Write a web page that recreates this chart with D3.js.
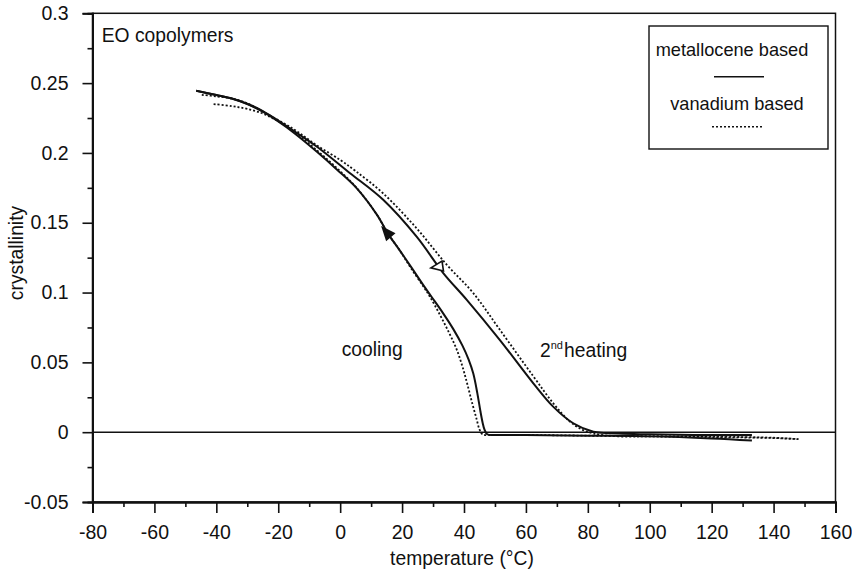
<!DOCTYPE html>
<html><head><meta charset="utf-8">
<script src="https://cdn.jsdelivr.net/npm/d3@7"></script>
<style>
body{margin:0;background:#fff;}
svg{display:block;font-family:"Liberation Sans",Arial,sans-serif;}
</style></head>
<body><svg id="c" width="852" height="571"></svg>
<script>
// ---- data (temperature °C, crystallinity) ----
const xTicks = [-80,-60,-40,-20,0,20,40,60,80,100,120,140,160];
const xMinor = [-70,-50,-30,-10,10,30,50,70,90,110,130,150];
const yTicks = [-0.05,0,0.05,0.1,0.15,0.2,0.25,0.3];
const yTickLabels = ["-0.05","0","0.05","0.1","0.15","0.2","0.25","0.3"];
const yMinor = [-0.025,0.025,0.075,0.125,0.175,0.225,0.275];

const metalloceneCooling = [
 [133,-0.006],[120,-0.0045],[100,-0.003],[80,-0.0025],[60,-0.002],[50,-0.002],[47.5,-0.0015],
 [46.6,0.002],[46,0.007],[45.3,0.015],[44.3,0.028],[43,0.042],[41.5,0.052],[39.5,0.062],
 [36.5,0.074],[33,0.086],[29.5,0.097],[26.8,0.1055],[23,0.118],[19.3,0.13],[15.5,0.142],
 [11.8,0.156],[5.3,0.1748],[-1,0.188],[-7.6,0.201],[-15,0.2145],[-20,0.2225],[-25,0.2295],
 [-30,0.235],[-35,0.239],[-40,0.2415],[-46.5,0.2445]
];
const metalloceneHeating = [
 [-46.5,0.2445],[-40,0.2415],[-35,0.239],[-30,0.2352],[-25,0.23],[-20,0.2232],[-15,0.2158],
 [-7.6,0.2046],[3.2,0.1855],[13.9,0.1664],[24.7,0.140],[33.3,0.114],[40.9,0.0948],[51.6,0.066],
 [62.4,0.035],[68.8,0.0183],[75.3,0.0064],[81.8,0.0004],[90,-0.001],[100,-0.0015],[115,-0.002],[133,-0.002]
];
const vanadiumCooling = [
 [148,-0.005],[140,-0.0042],[120,-0.0035],[100,-0.003],[80,-0.0025],[60,-0.002],[50,-0.002],
 [46,-0.0015],[45,0.002],[44,0.01],[42.5,0.022],[41,0.035],[39.5,0.047],[37.5,0.06],[35,0.072],
 [32,0.085],[29,0.097],[27,0.104],[23,0.117],[19.3,0.13],[15.5,0.142],[11.8,0.156],[5.3,0.175],
 [-1,0.189],[-7.6,0.202],[-15,0.2155],[-23.7,0.227],[-30,0.2315],[-35,0.2335],[-41,0.235]
];
const vanadiumHeating = [
 [-44.7,0.2416],[-40,0.2405],[-35,0.239],[-30,0.2355],[-23.7,0.228],[-15,0.217],[-7.6,0.2055],
 [0,0.195],[5,0.187],[13.9,0.171],[24.7,0.146],[34.4,0.12],[43,0.0996],[51.6,0.0733],
 [62.4,0.040],[68.8,0.0208],[74,0.008],[78,0.002],[82,-0.001],[90,-0.003],[100,-0.003],
 [120,-0.0032],[140,-0.004],[148,-0.005]
];
const arrowMarks = [
 {tip:[13.67,0.1466], tail:[15.45,0.142], filled:true},
 {tip:[29.3,0.1177], tail:[33.3,0.119], filled:false}
];

// ---- layout ----
const svg = d3.select("#c");
const x = d3.scaleLinear().domain([-80,160]).range([92.5,835.5]);
const y = d3.scaleLinear().domain([-0.05,0.3]).range([502,13.3]);
const ink = "#111";

// frame
svg.append("rect").attr("x",x(-80)).attr("y",y(0.3)).attr("width",x(160)-x(-80)).attr("height",y(-0.05)-y(0.3))
  .attr("fill","none").attr("stroke",ink).attr("stroke-width",1.5);

// axes
const fmtY = d => yTickLabels[yTicks.indexOf(d)];
const gx = svg.append("g").attr("transform",`translate(0,${y(-0.05)})`)
  .call(d3.axisBottom(x).tickValues(xTicks).tickSize(11).tickPadding(12).tickFormat(d=>String(d)));
const gxm = svg.append("g").attr("transform",`translate(0,${y(-0.05)})`)
  .call(d3.axisBottom(x).tickValues(xMinor).tickSize(5).tickFormat(""));
const gy = svg.append("g").attr("transform",`translate(${x(-80)},0)`)
  .call(d3.axisLeft(y).tickValues(yTicks).tickSize(10).tickPadding(14).tickFormat(fmtY));
const gym = svg.append("g").attr("transform",`translate(${x(-80)},0)`)
  .call(d3.axisLeft(y).tickValues(yMinor).tickSize(5).tickFormat(""));
[gx,gxm,gy,gym].forEach(g=>{
  g.selectAll(".domain").attr("stroke",ink).attr("stroke-width",1.9);
  g.selectAll(".tick line").attr("stroke",ink).attr("stroke-width",1.6);
  g.selectAll("text").attr("fill",ink).style("font-size","19.5px").style("font-family","'Liberation Sans',Arial,sans-serif");
});

// zero line
svg.append("line").attr("x1",x(-80)).attr("x2",x(160)).attr("y1",y(0)).attr("y2",y(0))
  .attr("stroke",ink).attr("stroke-width",1.4);

// curves
const lineC = d3.line().x(d=>x(d[0])).y(d=>y(d[1])).curve(d3.curveCatmullRom.alpha(0.5));
svg.append("path").attr("d",lineC(metalloceneCooling)).attr("fill","none").attr("stroke",ink).attr("stroke-width",2);
svg.append("path").attr("d",lineC(metalloceneHeating)).attr("fill","none").attr("stroke",ink).attr("stroke-width",2);
svg.append("path").attr("d",lineC(vanadiumCooling)).attr("fill","none").attr("stroke",ink).attr("stroke-width",1.8).attr("stroke-dasharray","2,2");
svg.append("path").attr("d",lineC(vanadiumHeating)).attr("fill","none").attr("stroke",ink).attr("stroke-width",1.8).attr("stroke-dasharray","2,2");

// arrows
arrowMarks.forEach(a=>{
  const tx=x(a.tip[0]), ty=y(a.tip[1]), bx=x(a.tail[0]), by=y(a.tail[1]);
  let dx=tx-bx, dy=ty-by; const L=Math.hypot(dx,dy); dx/=L; dy/=L;
  const len=12, hw=5;
  const cx=tx-dx*len, cy=ty-dy*len;
  const p=[[tx,ty],[cx-dy*hw,cy+dx*hw],[cx+dy*hw,cy-dx*hw]];
  svg.append("path").attr("d","M"+p.map(q=>q.join(",")).join("L")+"Z")
    .attr("fill",a.filled?ink:"#fff").attr("stroke",ink).attr("stroke-width",1.6);
});

// legend
svg.append("rect").attr("x",649).attr("y",26).attr("width",179).attr("height",123)
  .attr("fill","#fff").attr("stroke",ink).attr("stroke-width",1.4);
const txt = (s,xx,yy,anchor,fs)=>svg.append("text").attr("x",xx).attr("y",yy).attr("text-anchor",anchor||"start")
  .attr("fill",ink).style("font-size",(fs||19)+"px").text(s);
txt("metallocene based",732,55.5,"middle",18.2);
svg.append("line").attr("x1",714).attr("x2",764).attr("y1",76.7).attr("y2",76.7).attr("stroke",ink).attr("stroke-width",1.6);
txt("vanadium based",737,110,"middle",18.2);
svg.append("line").attr("x1",712).attr("x2",763).attr("y1",126.7).attr("y2",126.7).attr("stroke",ink).attr("stroke-width",1.5).attr("stroke-dasharray","2,2");

// annotations
txt("EO copolymers",101.7,41.7,"start",19.3);
txt("cooling",341.7,356,"start",19.3);
const h = svg.append("text").attr("x",540).attr("y",356.5).attr("fill",ink).style("font-size","19.3px");
h.append("tspan").text("2");
h.append("tspan").attr("dy",-8).style("font-size","11px").text("nd");
h.append("tspan").attr("dy",8).attr("dx",1).text("heating");

// axis titles
txt("temperature (°C)",462,565,"middle",19.3);
svg.append("text").attr("transform","translate(23,253) rotate(-90)").attr("text-anchor","middle")
  .attr("fill",ink).style("font-size","19.3px").text("crystallinity");
</script></body></html>
